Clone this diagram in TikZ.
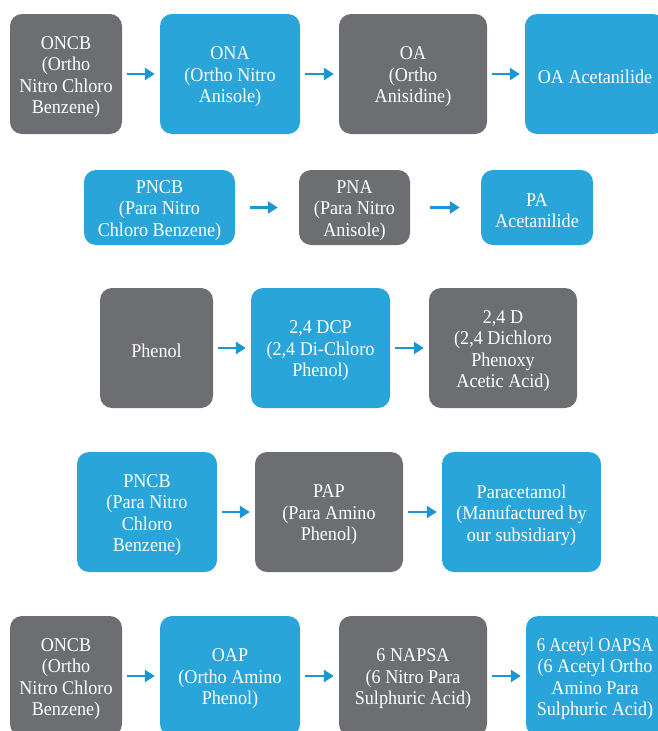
\documentclass[tikz,border=0pt]{standalone}
\usepackage{fontspec}
\setmainfont[FakeStretch=0.93]{Liberation Serif}
\newfontfamily\narrowserif[FakeStretch=0.86]{Liberation Serif}
\usetikzlibrary{arrows.meta}
\definecolor{boxgray}{HTML}{6D6E72}
\definecolor{boxblue}{HTML}{29A5DA}
\definecolor{arrblue}{HTML}{1A96D4}
\begin{document}
\begin{tikzpicture}[x=1pt,y=-1pt,
  box/.style={rounded corners=12pt, inner sep=0pt},
  gbox/.style={box, fill=boxgray},
  bbox/.style={box, fill=boxblue},
  txt/.style={text=white, align=center, inner sep=0pt, yshift=-3pt,
    font=\fontsize{19.5}{21.5}\selectfont},
  arr/.style={draw=arrblue, line width=2.7pt, -{Triangle[length=10pt,width=12pt]},
    shorten <=5pt, shorten >=5pt}]
\useasboundingbox (0,0) rectangle (657,731);
% Row 1
\node[gbox, minimum width=112pt, minimum height=120pt] (a1) at (66,74) {};
\node[bbox, minimum width=140pt, minimum height=120pt] (a2) at (230,74) {};
\node[gbox, minimum width=148pt, minimum height=120pt] (a3) at (413,74) {};
\node[bbox, minimum width=140pt, minimum height=120pt] (a4) at (595,74) {};
\node[txt] (a1t) at (a1) {ONCB\\(Ortho\\Nitro Chloro\\Benzene)};
\node[txt] (a2t) at (a2) {ONA\\(Ortho Nitro\\Anisole)};
\node[txt] (a3t) at (a3) {OA\\(Ortho\\Anisidine)};
\node[txt] (a4t) at (a4) {OA Acetanilide};
\draw[arr] (a1) -- (a2);
\draw[arr] (a2) -- (a3);
\draw[arr] (a3) -- (a4);
% Row 2
\node[bbox, minimum width=151pt, minimum height=75pt] (b1) at (159.5,207.5) {};
\node[gbox, minimum width=111pt, minimum height=75pt] (b2) at (354.5,207.5) {};
\node[bbox, minimum width=112pt, minimum height=75pt] (b3) at (537,207.5) {};
\node[txt] (b1t) at (b1) {PNCB\\(Para Nitro\\Chloro Benzene)};
\node[txt] (b2t) at (b2) {PNA\\(Para Nitro\\Anisole)};
\node[txt] (b3t) at (b3) {PA\\Acetanilide};
\draw[arr, shorten <=15pt, shorten >=21pt] (b1) -- (b2);
\draw[arr, shorten <=20pt, shorten >=21pt] (b2) -- (b3);
% Row 3
\node[gbox, minimum width=113pt, minimum height=120pt] (c1) at (156.5,348) {};
\node[bbox, minimum width=139pt, minimum height=120pt] (c2) at (320.5,348) {};
\node[gbox, minimum width=148pt, minimum height=120pt] (c3) at (503,348) {};
\node[txt] (c1t) at (c1) {Phenol};
\node[txt] (c2t) at (c2) {2,4 DCP\\(2,4 Di-Chloro\\Phenol)};
\node[txt] (c3t) at (c3) {2,4 D\\(2,4 Dichloro\\Phenoxy\\Acetic Acid)};
\draw[arr] (c1) -- (c2);
\draw[arr] (c2) -- (c3);
% Row 4
\node[bbox, minimum width=140pt, minimum height=120pt] (d1) at (147,512) {};
\node[gbox, minimum width=148pt, minimum height=120pt] (d2) at (329,512) {};
\node[bbox, minimum width=159pt, minimum height=120pt] (d3) at (521.5,512) {};
\node[txt] (d1t) at (d1) {PNCB\\(Para Nitro\\Chloro\\Benzene)};
\node[txt] (d2t) at (d2) {PAP\\(Para Amino\\Phenol)};
\node[txt] (d3t) at (d3) {Paracetamol\\(Manufactured by\\our subsidiary)};
\draw[arr] (d1) -- (d2);
\draw[arr] (d2) -- (d3);
% Row 5
\node[gbox, minimum width=112pt, minimum height=120pt] (e1) at (66,676) {};
\node[bbox, minimum width=140pt, minimum height=120pt] (e2) at (230,676) {};
\node[gbox, minimum width=148pt, minimum height=120pt] (e3) at (413,676) {};
\node[bbox, minimum width=140pt, minimum height=120pt] (e4) at (596,676) {};
\node[txt] (e1t) at (e1) {ONCB\\(Ortho\\Nitro Chloro\\Benzene)};
\node[txt] (e2t) at (e2) {OAP\\(Ortho Amino\\Phenol)};
\node[txt] (e3t) at (e3) {6 NAPSA\\(6 Nitro Para\\Sulphuric Acid)};
\node[txt] (e4t) at ([xshift=-1pt]e4.center) {{\narrowserif 6 Acetyl OAPSA}\\(6 Acetyl Ortho\\Amino Para\\Sulphuric Acid)};
\draw[arr] (e1) -- (e2);
\draw[arr] (e2) -- (e3);
\draw[arr] (e3) -- (e4);
\end{tikzpicture}
\end{document}
